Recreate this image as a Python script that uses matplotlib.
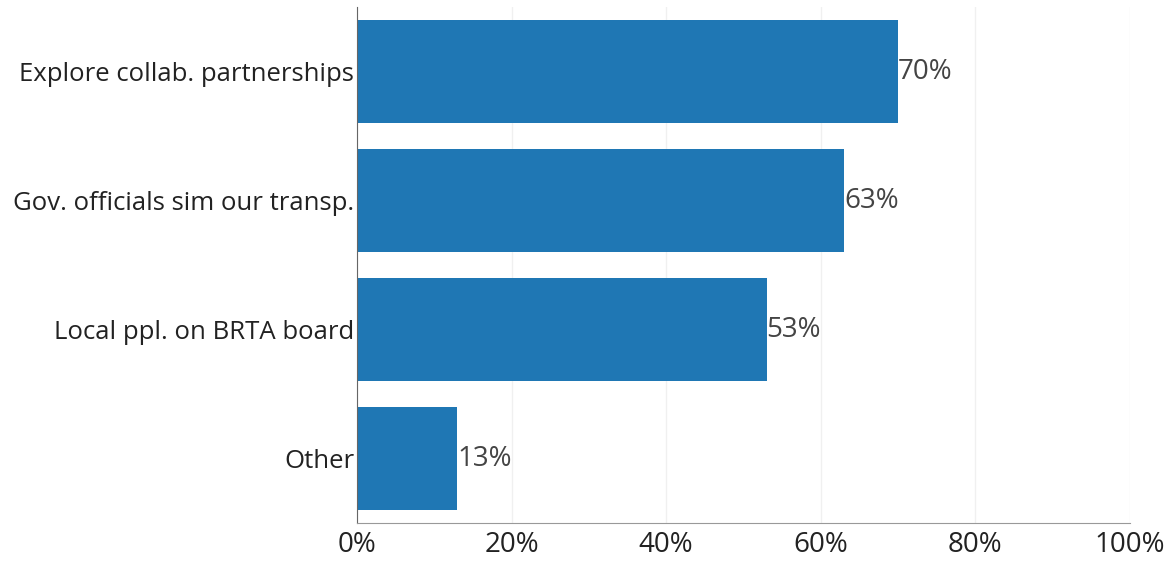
import matplotlib
matplotlib.use("Agg")
import matplotlib.pyplot as plt
import matplotlib.transforms as mtransforms
from matplotlib.ticker import FuncFormatter

# Data
categories = ["Explore collab. partnerships", "Gov. officials sim our transp.",
              "Local ppl. on BRTA board", "Other"]
values = [70, 63, 53, 13]
x_ticks = [0, 20, 40, 60, 80, 100]

plt.rcParams['font.family'] = ['Open Sans', 'DejaVu Sans']

fig = plt.figure(figsize=(11.74, 5.63), dpi=100)
ax = fig.add_axes([0.304, 0.071, 0.6585, 0.9165])

pos = list(range(len(categories)))
ax.barh(pos, values, height=0.8, color='#1f77b4', zorder=2)

# Value labels at the bar ends
for p, v in zip(pos, values):
    ax.text(v, p, f"{v}%", va='center', ha='left', fontsize=20, color='#444444')

ax.set_yticks(pos)
ax.set_yticklabels(categories, fontsize=18.5, color='#222222')
ax.set_ylim(len(categories) - 0.5, -0.5)

# nudge category labels down a little
shift = mtransforms.ScaledTranslation(0, -4 / 100, fig.dpi_scale_trans)
for lab in ax.get_yticklabels():
    lab.set_transform(lab.get_transform() + shift)

ax.set_xlim(0, 100)
ax.set_xticks(x_ticks)
ax.xaxis.set_major_formatter(FuncFormatter(lambda x, _: f"{x:.0f}%"))
ax.tick_params(axis='x', labelsize=20, length=0, pad=6, colors='#222222')
ax.tick_params(axis='y', length=0, pad=2)

ax.grid(axis='x', color='#f0f0f0', linewidth=1, zorder=0)
ax.set_axisbelow(True)

for s in ['top', 'right']:
    ax.spines[s].set_visible(False)
ax.spines['left'].set_color('#666666')
ax.spines['bottom'].set_color('#999999')

fig.savefig("out.png", dpi=100)
